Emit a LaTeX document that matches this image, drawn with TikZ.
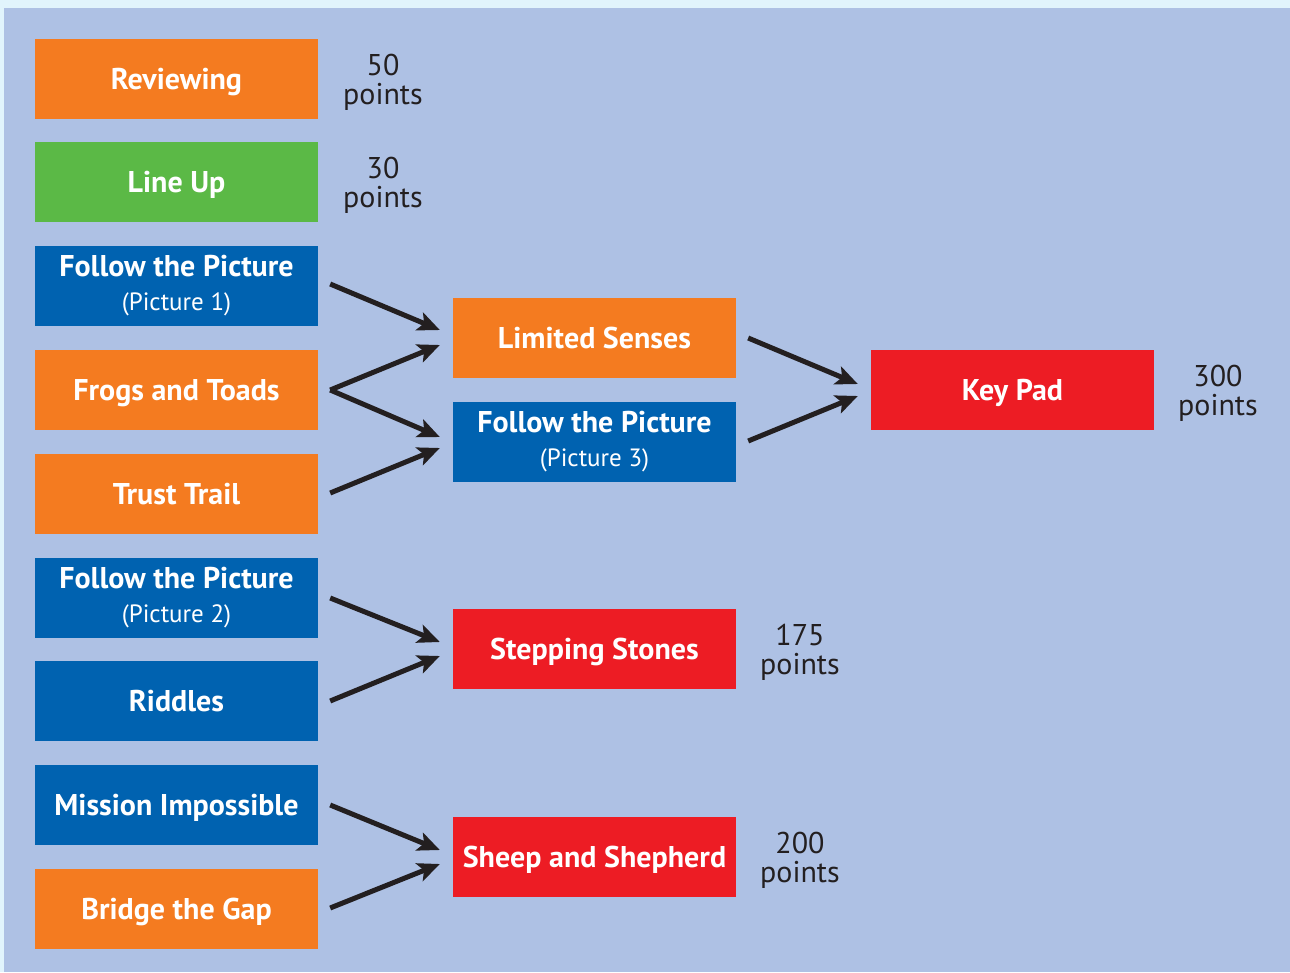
\documentclass[tikz,border=0pt]{standalone}
\usepackage{fontspec}
\setmainfont{PT Sans}
\usetikzlibrary{arrows.meta}
\definecolor{bgblue}{HTML}{AEC1E4}
\definecolor{strip}{HTML}{E1F4FC}
\definecolor{corange}{HTML}{F47B20}
\definecolor{cgreen}{HTML}{5BB946}
\definecolor{cblue}{HTML}{0062B0}
\definecolor{cred}{HTML}{ED1C24}
\definecolor{cdark}{HTML}{231F20}
\tikzset{
  box/.style={minimum width=283pt,minimum height=80pt,inner sep=0pt,text=white,
    font=\bfseries\fontsize{30}{33}\selectfont,align=center},
  one/.style={text height=20pt,text depth=0pt},
  obox/.style={box,fill=corange},
  gbox/.style={box,fill=cgreen},
  bbox/.style={box,fill=cblue},
  rbox/.style={box,fill=cred},
  pts/.style={text=cdark,font=\fontsize{30}{29}\selectfont,align=center,inner sep=0pt},
  arr/.style={draw=cdark,line width=5pt,-{Stealth[length=22pt,width=19pt,inset=5pt]}},
}
\newcommand{\sub}[1]{\\[1pt]{\mdseries\fontsize{25}{27}\selectfont #1}}
\begin{document}
\begin{tikzpicture}[x=1pt,y=-1pt]
\fill[strip] (0,0) rectangle (1290,972);
\fill[bgblue] (4,8) rectangle (1290,972);
\useasboundingbox (0,0) rectangle (1290,972);
% left column
\node[obox,one] (rev) at (176.5,79) {Reviewing};
\node[gbox,one] (lin) at (176.5,182) {Line Up};
\node[bbox] (fp1) at (176.5,286) {Follow the Picture\sub{(Picture 1)}};
\node[obox,one] (fro) at (176.5,390) {Frogs and Toads};
\node[obox,one] (tru) at (176.5,494) {Trust Trail};
\node[bbox] (fp2) at (176.5,598) {Follow the Picture\sub{(Picture 2)}};
\node[bbox,one] (rid) at (176.5,701) {Riddles};
\node[bbox,one] (mis) at (176.5,805) {Mission Impossible};
\node[obox,one] (bri) at (176.5,909) {Bridge the Gap};
% middle column
\node[obox,one] (lim) at (594.5,338) {Limited Senses};
\node[bbox] (fp3) at (594.5,442) {Follow the Picture\sub{(Picture 3)}};
\node[rbox,one] (ste) at (594.5,649) {Stepping Stones};
\node[rbox,one] (she) at (594.5,857) {Sheep and Shepherd};
% right
\node[rbox,one] (key) at (1012.5,390) {Key Pad};
% points
\node[pts] (p50) at (383,82) {50\\points};
\node[pts] (p30) at (383,185) {30\\points};
\node[pts] (p300) at (1218,393) {300\\points};
\node[pts] (p175) at (800,652) {175\\points};
\node[pts] (p200) at (800,860) {200\\points};
% arrows
\draw[arr] ([xshift=12pt,yshift=2pt]fp1.east) -- ([xshift=-13pt,yshift=8pt]lim.west);
\draw[arr] ([xshift=12pt]fro.east) -- ([xshift=-13pt,yshift=-7pt]lim.west);
\draw[arr] ([xshift=12pt]fro.east) -- ([xshift=-13pt,yshift=5pt]fp3.west);
\draw[arr] ([xshift=12pt,yshift=1pt]tru.east) -- ([xshift=-13pt,yshift=-6pt]fp3.west);
\draw[arr] ([xshift=12pt]lim.east) -- ([xshift=-13pt,yshift=6pt]key.west);
\draw[arr] ([xshift=12pt,yshift=1pt]fp3.east) -- ([xshift=-13pt,yshift=-6pt]key.west);
\draw[arr] ([xshift=12pt]fp2.east) -- ([xshift=-13pt,yshift=7pt]ste.west);
\draw[arr] ([xshift=12pt]rid.east) -- ([xshift=-13pt,yshift=-7pt]ste.west);
\draw[arr] ([xshift=12pt]mis.east) -- ([xshift=-13pt,yshift=7pt]she.west);
\draw[arr] ([xshift=12pt,yshift=1pt]bri.east) -- ([xshift=-13pt,yshift=-7pt]she.west);
\end{tikzpicture}
\end{document}
